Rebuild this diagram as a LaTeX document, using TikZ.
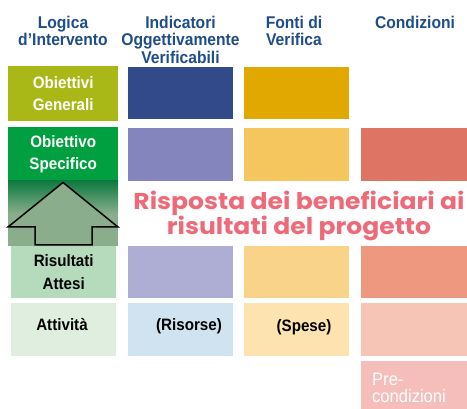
\documentclass[tikz,border=0pt]{standalone}
\usepackage{fontspec}
\setmainfont{Liberation Sans}
\newfontfamily\hfont[FakeStretch=0.92]{Liberation Sans}
\newfontfamily\pfont[FakeStretch=1.09]{Poppins}
\definecolor{hdr}{HTML}{1F4D8A}
\definecolor{cOG}{HTML}{AAB817}
\definecolor{cIa}{HTML}{324A8A}
\definecolor{cFa}{HTML}{E0A800}
\definecolor{cOS}{HTML}{00A040}
\definecolor{cIb}{HTML}{8585BD}
\definecolor{cFb}{HTML}{F5C55E}
\definecolor{cCb}{HTML}{DE7463}
\definecolor{cRA}{HTML}{B5DBBC}
\definecolor{cIc}{HTML}{AEAED4}
\definecolor{cFc}{HTML}{F9D38A}
\definecolor{cCc}{HTML}{EE9880}
\definecolor{cAT}{HTML}{E0EEE0}
\definecolor{cId}{HTML}{CFE4F0}
\definecolor{cFd}{HTML}{FCE3B0}
\definecolor{cCd}{HTML}{F6C5B5}
\definecolor{cPC}{HTML}{F6BEBB}
\definecolor{gdark}{HTML}{0E7A40}
\definecolor{glight}{HTML}{8AAE8C}
\definecolor{pinktxt}{HTML}{EE6A78}
\tikzset{
  cell/.style={anchor=north west, inner sep=0pt, draw=none, align=center,
    font=\hfont\bfseries\fontsize{16.5}{22.5}\selectfont},
  head/.style={anchor=north, inner sep=0pt, align=center, text=hdr,
    font=\hfont\bfseries\fontsize{17}{17.6}\selectfont},
  celltxt/.style={anchor=base, inner sep=0pt,
    font=\hfont\bfseries\fontsize{16.5}{22.5}\selectfont}
}
\begin{document}
\begin{tikzpicture}[x=1pt,y=-1pt]
\useasboundingbox (0,0) rectangle (467,409);
% headers
\node[head] (h1) at (63,15.7) {Logica\\d’Intervento};
\node[head] (h2) at (180.5,15.7) {Indicatori\\Oggettivamente\\Verificabili};
\node[head] (h3) at (294,15.7) {Fonti di\\Verifica};
\node[head] (h4) at (415,15.7) {Condizioni};
% row 1
\node[cell, fill=cOG, text=white, minimum width=110, minimum height=55] (og) at (8,66) {Obiettivi\\Generali};
\node[cell, fill=cIa, minimum width=105, minimum height=52] (ia) at (128,67) {};
\node[cell, fill=cFa, minimum width=105, minimum height=52] (fa) at (244,67) {};
% row 2
\node[cell, fill=cOS, text=white, minimum width=110, minimum height=54] (os) at (8,127) {Obiettivo\\Specifico};
\node[cell, fill=cIb, minimum width=105, minimum height=53] (ib) at (128,128) {};
\node[cell, fill=cFb, minimum width=105, minimum height=53] (fb) at (244,128) {};
\node[cell, fill=cCb, minimum width=106, minimum height=53] (cb) at (361,128) {};
% gradient band with arrow
\fill[glight] (8,181) rectangle (118,246);
\shade[top color=gdark, bottom color=glight] (8,181) rectangle (118,214);
\draw[line width=1.5pt, fill=glight, line join=miter]
  (63,182.5) -- (118,227) -- (92,227) -- (92,245) -- (35,245) -- (35,227) -- (8,227) -- cycle;
% row 3
\node[cell, fill=cRA, minimum width=105, minimum height=52] (ra) at (11,246) {Risultati\\Attesi};
\node[cell, fill=cIc, minimum width=105, minimum height=52] (ic) at (128,246) {};
\node[cell, fill=cFc, minimum width=105, minimum height=52] (fc) at (244,246) {};
\node[cell, fill=cCc, minimum width=106, minimum height=52] (cc) at (361,246) {};
% row 4
\node[cell, fill=cAT, minimum width=105, minimum height=53] (at) at (11,303) {};
\node[cell, fill=cId, minimum width=105, minimum height=53] (id) at (128,303) {};
\node[cell, fill=cFd, minimum width=105, minimum height=53] (fd) at (244,303) {};
\node[cell, fill=cCd, minimum width=106, minimum height=53] (cd) at (361,303) {};
\node[celltxt] (att) at (62,331) {Attività};
\node[celltxt] (ris) at (189,331) {(Risorse)};
\node[celltxt] (spe) at (304,332) {(Spese)};
% row 5
\node[cell, fill=cPC, minimum width=106, minimum height=48] (pc) at (361,361) {};
\node[anchor=base west, inner sep=0pt, align=left, text=white,
  font=\hfont\fontsize{18}{17}\selectfont] (pct) at (372,402.7) {Pre-\\condizioni};
% pink statement
\node[anchor=north, inner sep=0pt, align=center, text=pinktxt,
  font=\pfont\bfseries\fontsize{23}{25}\selectfont] (resp) at (299,191)
  {Risposta dei beneficiari ai\\risultati del progetto};
\end{tikzpicture}
\end{document}
